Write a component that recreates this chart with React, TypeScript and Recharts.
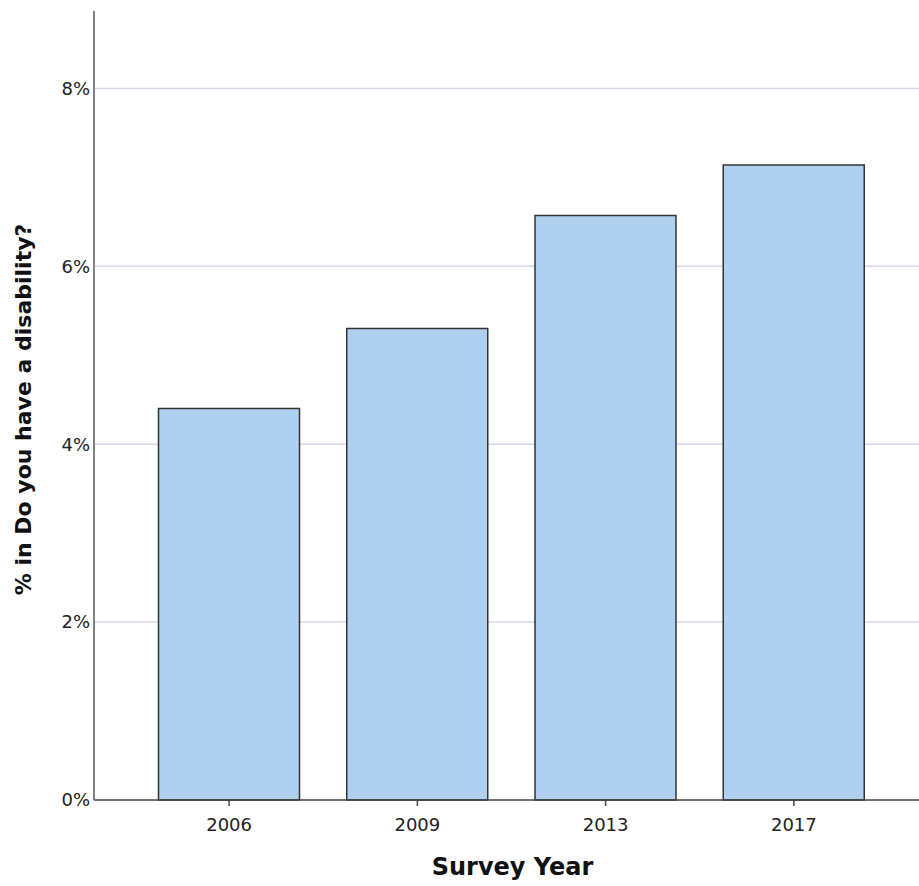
import { BarChart, Bar, XAxis, YAxis, CartesianGrid } from "recharts";

const years = ["2006", "2009", "2013", "2017"];
const disabilityPct = [4.4, 5.3, 6.57, 7.14];
const yTicks = [0, 2, 4, 6, 8];
const gridLines = [2, 4, 6, 8];

const data = years.map((year, i) => ({ year, pct: disabilityPct[i] }));

const App = () => {
  return (
    <div style={{ position: "absolute", left: 0, top: 0 }}>
      <BarChart
        width={919}
        height={886}
        data={data}
        margin={{ top: 11, right: 0, left: 0, bottom: 0 }}
        barCategoryGap={23.5}
        style={{ fontFamily: "DejaVu Sans, Verdana, sans-serif" }}
      >
        <CartesianGrid
          vertical={false}
          horizontalValues={gridLines}
          stroke="#d3dae6"
          strokeWidth={1.5}
        />
        <XAxis
          dataKey="year"
          height={86}
          padding={{ left: 41, right: 31 }}
          stroke="#444"
          strokeWidth={1.5}
          tickSize={6}
          tickMargin={12}
          tick={{ fill: "#222", fontSize: 18 }}
          label={{
            value: "Survey Year",
            position: "center",
            dy: 23,
            dx: 6,
            style: { fontWeight: "bold", fontSize: 24, fill: "#111" },
          }}
        />
        <YAxis
          width={94}
          domain={[0, 8.87]}
          ticks={yTicks}
          tickFormatter={(v: number) => `${v}%`}
          stroke="#808080"
          strokeWidth={2}
          tickLine={false}
          tickSize={0}
          tickMargin={4}
          tick={{ fill: "#222", fontSize: 18 }}
          label={{
            value: "% in Do you have a disability?",
            angle: -90,
            position: "center",
            dx: -24,
            dy: 4,
            style: { fontWeight: "bold", fontSize: 22, fill: "#111", textAnchor: "middle" },
          }}
        />
        <Bar
          dataKey="pct"
          fill="#afd0ee"
          stroke="#333"
          strokeWidth={1.5}
          isAnimationActive={false}
        />
      </BarChart>
    </div>
  );
};

export default App;
